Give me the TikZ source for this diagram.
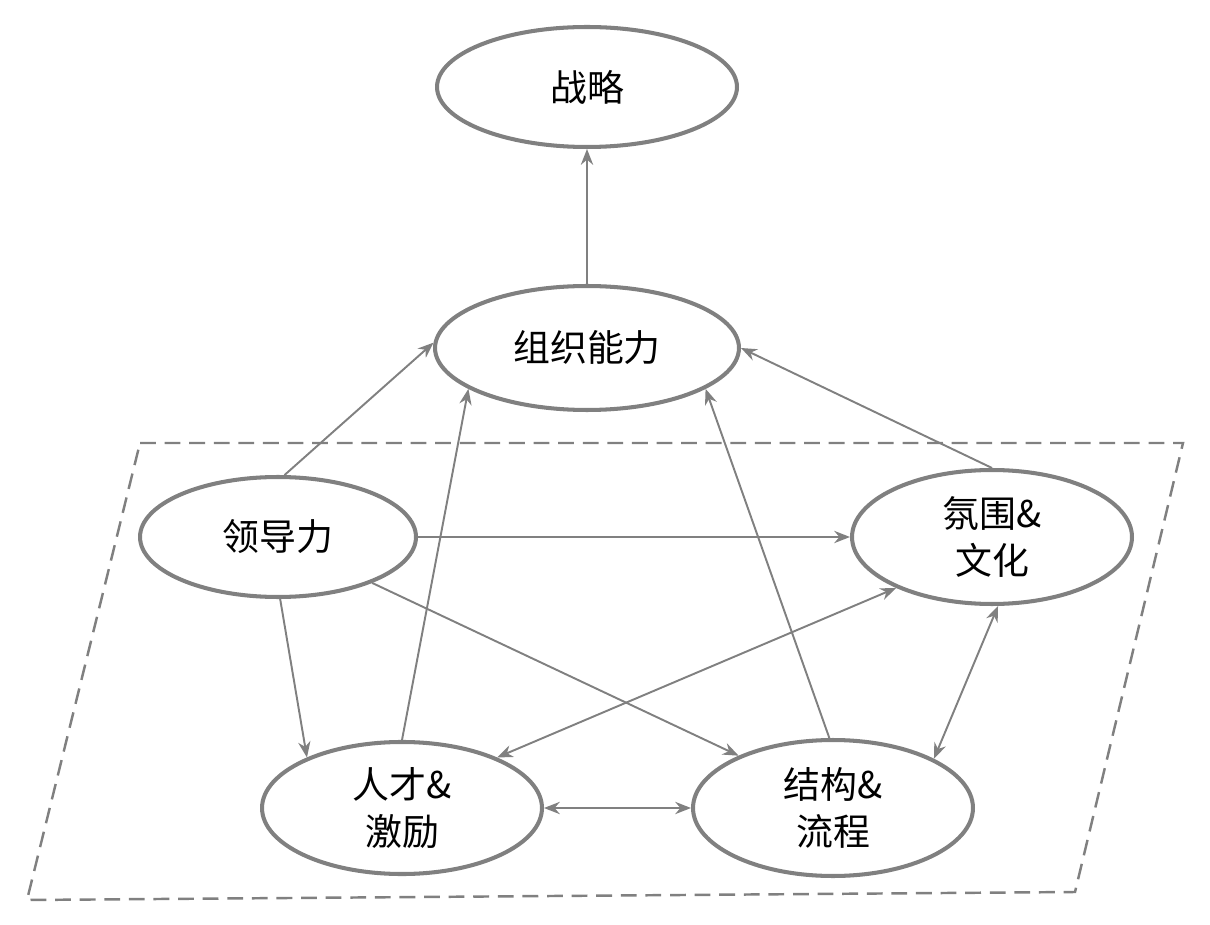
\documentclass[tikz,border=0pt]{standalone}
\usepackage{fontspec}
\setmainfont{Noto Sans CJK SC}
\usetikzlibrary{arrows.meta,shapes.geometric}
\definecolor{edgegray}{RGB}{128,128,128}
\tikzset{
  unit/.style={ellipse,draw=edgegray,line width=2.3pt,fill=white,align=center,
    font=\fontsize{21}{27}\selectfont},
  link/.style={draw=edgegray,line width=1.1pt,-{Stealth[length=9pt,width=7pt]}},
  both/.style={link,{Stealth[length=9pt,width=7pt]}-{Stealth[length=9pt,width=7pt]}}
}
\begin{document}
\begin{tikzpicture}[x=0.02cm,y=-0.02cm]
		\useasboundingbox (0,0) rectangle (1210,925);
		\draw[edgegray,line width=1.4pt,dash pattern=on 9pt off 5pt] (140,443)--(1183,443)--(1075,892)--(27,900)--cycle;
		\node[unit,minimum width=300\pgflinewidth/2.3*0.02cm*0+6cm,minimum height=2.4cm] (strat) at (587,87) {战略};
		\node[unit,minimum width=6.08cm,minimum height=2.48cm] (capab) at (587,348) {组织能力};
		\node[unit,minimum width=5.52cm,minimum height=2.4cm] (lead) at (278,537) {领导力};
		\node[unit,minimum width=5.6cm,minimum height=2.68cm] (culture) at (992,537) {氛围\&\\文化};
		\node[unit,minimum width=5.6cm,minimum height=2.6cm] (talent) at (402,808) {人才\&\\激励};
		\node[unit,minimum width=5.6cm,minimum height=2.72cm] (struct) at (833,808) {结构\&\\流程};
		% links to capability
		\draw[link] (capab.north) -- (strat.south);
		\draw[link] (lead.84) -- (capab.178);
		\draw[link] (talent.90) -- (capab.199);
		\draw[link] (struct.93) -- (capab.341);
		\draw[link] (culture.90) -- (capab.0);
		% links inside the frame
		\draw[link] (lead.0) -- (culture.180);
		\draw[link] (lead.272) -- (talent.152);
		\draw[link] (lead.334) -- (struct.151);
		\draw[both] (culture.208) -- (talent.28);
		\draw[both] (culture.275) -- (struct.26);
		\draw[both] (talent.0) -- (struct.180);
	\end{tikzpicture}
\end{document}
